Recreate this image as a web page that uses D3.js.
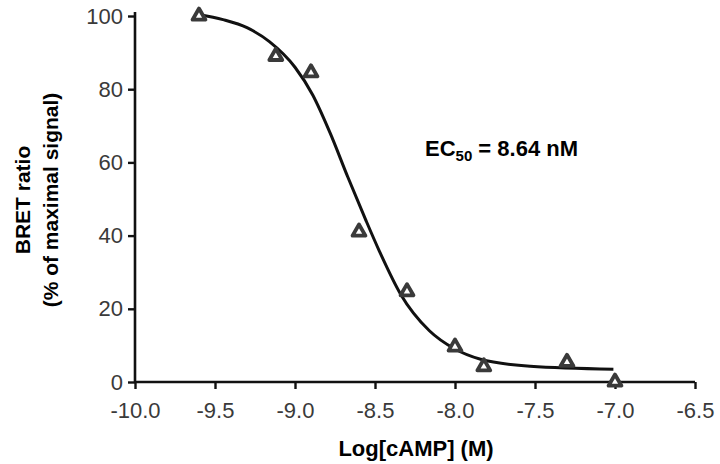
<!DOCTYPE html>
<html>
<head>
<meta charset="utf-8">
<script src="https://cdn.jsdelivr.net/npm/d3@7"></script>
<style>
html,body{margin:0;padding:0;background:#fff;}
svg{display:block;font-family:"Liberation Sans",Arial,sans-serif;}
</style>
</head>
<body>
<svg id="chart" width="720" height="464"></svg>
<script>
// Measured points (log concentration, % of maximal signal)
const logConc = [-9.6, -9.12, -8.9, -8.6, -8.3, -8.0, -7.82, -7.3, -7.0];
const bretPct = [100, 89, 84.5, 41, 24.7, 9.6, 4.2, 5.4, 0];

// Fitted curve
const curveX = [-9.6, -9.45, -9.3, -9.16, -9.0, -8.89, -8.78, -8.67, -8.56, -8.47, -8.34, -8.16, -8.0, -7.84, -7.53, -7.01];
const curveY = [100.4, 99.0, 96.8, 93.0, 86.0, 78.5, 68.0, 56.0, 44.5, 35.5, 24.0, 14.0, 9.0, 6.2, 4.3, 3.5];

const xTicks = [-10.0, -9.5, -9.0, -8.5, -8.0, -7.5, -7.0, -6.5];
const yTicks = [0, 20, 40, 60, 80, 100];

const svg = d3.select("#chart");
const x = d3.scaleLinear().domain([-10, -6.5]).range([135, 695]);
const y = d3.scaleLinear().domain([0, 100]).range([382, 16]);

// Axes
const xAxis = d3.axisBottom(x).tickValues(xTicks).tickSize(7).tickPadding(13)
  .tickFormat(d => d.toFixed(1));
const yAxis = d3.axisLeft(y).tickValues(yTicks).tickSize(7).tickPadding(5)
  .tickFormat(d => String(d));

const gx = svg.append("g").attr("transform", "translate(0,382)").call(xAxis);
const gy = svg.append("g").attr("transform", "translate(135,0)").call(yAxis);

[gx, gy].forEach(g => {
  g.select(".domain").attr("stroke", "#111").attr("stroke-width", 2.6);
  g.selectAll(".tick line").attr("stroke", "#111").attr("stroke-width", 2.4);
  g.selectAll(".tick text").attr("fill", "#3a3a3a")
    .style("font-family", "'Liberation Sans', Arial, sans-serif")
    .style("font-size", "22px");
});
gy.select(".domain").attr("d", `M0,12V${y(0)}`);
gx.select(".domain").attr("d", `M${x(-10)},0H${x(-6.5)}`);

// Fitted curve
const line = d3.line().x(d => x(d[0])).y(d => y(d[1])).curve(d3.curveMonotoneX);
svg.append("path")
  .datum(curveX.map((v, i) => [v, curveY[i]]))
  .attr("d", line)
  .attr("fill", "none")
  .attr("stroke", "#111")
  .attr("stroke-width", 3);

// Data points: open triangles
const tri = d3.symbol().type(d3.symbolTriangle).size(72);
svg.append("g").selectAll("path")
  .data(logConc.map((v, i) => [v, bretPct[i]]))
  .join("path")
  .attr("d", tri)
  .attr("transform", d => `translate(${x(d[0])},${y(d[1])})`)
  .attr("fill", "#fff")
  .attr("stroke", "#3a3a3a")
  .attr("stroke-width", 3.8)
  .attr("stroke-linejoin", "round");

// Axis titles
svg.append("text")
  .attr("x", 416).attr("y", 456)
  .attr("text-anchor", "middle")
  .style("font-weight", "bold").style("font-size", "22px").attr("fill", "#000")
  .text("Log[cAMP] (M)");

const yt = svg.append("text")
  .attr("transform", "translate(0,200) rotate(-90)")
  .attr("text-anchor", "middle")
  .style("font-weight", "bold").style("font-size", "21px").attr("fill", "#000");
yt.append("tspan").attr("x", 0).attr("y", 30).text("BRET ratio");
yt.append("tspan").attr("x", 0).attr("y", 58).text("(% of maximal signal)");

// EC50 annotation
const ec = svg.append("text")
  .attr("x", 425).attr("y", 156)
  .style("font-weight", "bold").style("font-size", "22px").attr("fill", "#000");
ec.append("tspan").text("EC");
ec.append("tspan").attr("dy", 5).style("font-size", "15px").text("50");
ec.append("tspan").attr("dy", -5).text(" = 8.64 nM");
</script>
</body>
</html>
